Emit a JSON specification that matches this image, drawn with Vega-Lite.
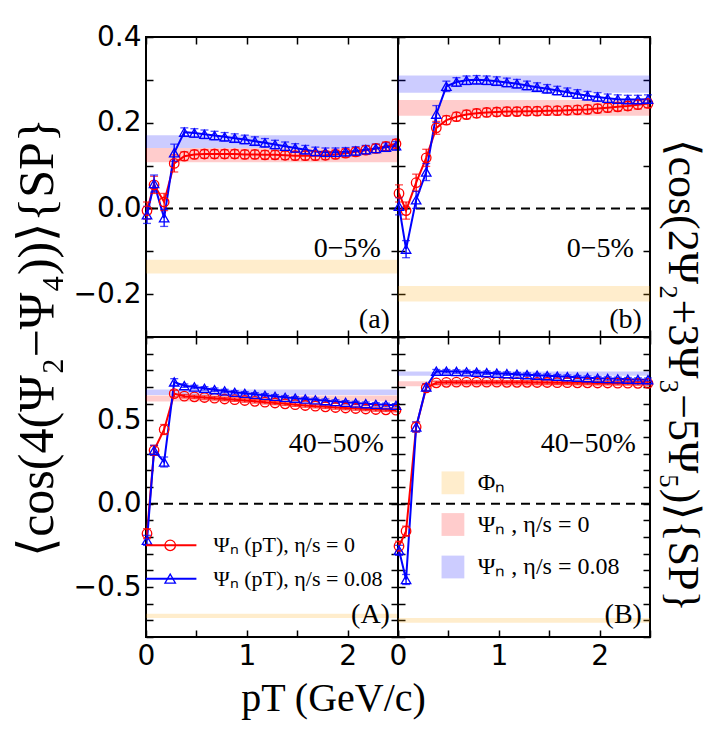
{
"$schema": "https://vega.github.io/schema/vega-lite/v6.json",
"background": "white",
"padding": {"left": 11, "top": 22, "right": 0, "bottom": 5},
"columns": 2,
"spacing": 0,
"bounds": "flush",
"datasets": {
"bands": [
{"p":"a","s":"phi","lo":-0.152,"hi":-0.12},{"p":"a","s":"eta0","lo":0.108,"hi":0.141},{"p":"a","s":"eta008","lo":0.141,"hi":0.171},
{"p":"b","s":"phi","lo":-0.217,"hi":-0.181},{"p":"b","s":"eta0","lo":0.216,"hi":0.253},{"p":"b","s":"eta008","lo":0.27,"hi":0.31},
{"p":"A","s":"phi","lo":-0.686,"hi":-0.66},{"p":"A","s":"eta0","lo":0.613,"hi":0.649},{"p":"A","s":"eta008","lo":0.652,"hi":0.685},
{"p":"B","s":"phi","lo":-0.714,"hi":-0.686},{"p":"B","s":"eta0","lo":0.704,"hi":0.734},{"p":"B","s":"eta008","lo":0.768,"hi":0.793}
],
"series": [
{"p":"a","s":"eta0","pt":0.01,"v":-0.005,"e":0.02},{"p":"a","s":"eta0","pt":0.08,"v":0.055,"e":0.02},{"p":"a","s":"eta0","pt":0.18,"v":0.015,"e":0.02},{"p":"a","s":"eta0","pt":0.28,"v":0.105,"e":0.02},{"p":"a","s":"eta0","pt":0.38,"v":0.122,"e":0.01},{"p":"a","s":"eta0","pt":0.48,"v":0.126,"e":0.01},{"p":"a","s":"eta0","pt":0.58,"v":0.127,"e":0.01},{"p":"a","s":"eta0","pt":0.68,"v":0.127,"e":0.01},{"p":"a","s":"eta0","pt":0.78,"v":0.127,"e":0.01},{"p":"a","s":"eta0","pt":0.88,"v":0.127,"e":0.01},{"p":"a","s":"eta0","pt":0.98,"v":0.126,"e":0.01},{"p":"a","s":"eta0","pt":1.08,"v":0.126,"e":0.01},{"p":"a","s":"eta0","pt":1.18,"v":0.125,"e":0.01},{"p":"a","s":"eta0","pt":1.28,"v":0.125,"e":0.01},{"p":"a","s":"eta0","pt":1.38,"v":0.124,"e":0.01},{"p":"a","s":"eta0","pt":1.48,"v":0.123,"e":0.01},{"p":"a","s":"eta0","pt":1.58,"v":0.123,"e":0.01},{"p":"a","s":"eta0","pt":1.68,"v":0.123,"e":0.01},{"p":"a","s":"eta0","pt":1.78,"v":0.124,"e":0.01},{"p":"a","s":"eta0","pt":1.88,"v":0.126,"e":0.01},{"p":"a","s":"eta0","pt":1.98,"v":0.129,"e":0.01},{"p":"a","s":"eta0","pt":2.08,"v":0.132,"e":0.01},{"p":"a","s":"eta0","pt":2.18,"v":0.136,"e":0.01},{"p":"a","s":"eta0","pt":2.28,"v":0.14,"e":0.01},{"p":"a","s":"eta0","pt":2.38,"v":0.145,"e":0.01},{"p":"a","s":"eta0","pt":2.48,"v":0.151,"e":0.01},
{"p":"a","s":"eta008","pt":0.01,"v":-0.015,"e":0.02},{"p":"a","s":"eta008","pt":0.08,"v":0.058,"e":0.02},{"p":"a","s":"eta008","pt":0.18,"v":-0.022,"e":0.02},{"p":"a","s":"eta008","pt":0.28,"v":0.13,"e":0.02},{"p":"a","s":"eta008","pt":0.38,"v":0.178,"e":0.01},{"p":"a","s":"eta008","pt":0.48,"v":0.176,"e":0.01},{"p":"a","s":"eta008","pt":0.58,"v":0.173,"e":0.01},{"p":"a","s":"eta008","pt":0.68,"v":0.17,"e":0.01},{"p":"a","s":"eta008","pt":0.78,"v":0.167,"e":0.01},{"p":"a","s":"eta008","pt":0.88,"v":0.164,"e":0.01},{"p":"a","s":"eta008","pt":0.98,"v":0.161,"e":0.01},{"p":"a","s":"eta008","pt":1.08,"v":0.157,"e":0.01},{"p":"a","s":"eta008","pt":1.18,"v":0.153,"e":0.01},{"p":"a","s":"eta008","pt":1.28,"v":0.149,"e":0.01},{"p":"a","s":"eta008","pt":1.38,"v":0.145,"e":0.01},{"p":"a","s":"eta008","pt":1.48,"v":0.141,"e":0.01},{"p":"a","s":"eta008","pt":1.58,"v":0.137,"e":0.01},{"p":"a","s":"eta008","pt":1.68,"v":0.133,"e":0.01},{"p":"a","s":"eta008","pt":1.78,"v":0.131,"e":0.01},{"p":"a","s":"eta008","pt":1.88,"v":0.131,"e":0.01},{"p":"a","s":"eta008","pt":1.98,"v":0.132,"e":0.01},{"p":"a","s":"eta008","pt":2.08,"v":0.134,"e":0.01},{"p":"a","s":"eta008","pt":2.18,"v":0.137,"e":0.01},{"p":"a","s":"eta008","pt":2.28,"v":0.14,"e":0.01},{"p":"a","s":"eta008","pt":2.38,"v":0.143,"e":0.01},{"p":"a","s":"eta008","pt":2.48,"v":0.146,"e":0.01},
{"p":"b","s":"eta0","pt":0.01,"v":0.035,"e":0.02},{"p":"b","s":"eta0","pt":0.08,"v":-0.005,"e":0.02},{"p":"b","s":"eta0","pt":0.18,"v":0.06,"e":0.02},{"p":"b","s":"eta0","pt":0.28,"v":0.118,"e":0.02},{"p":"b","s":"eta0","pt":0.38,"v":0.188,"e":0.015},{"p":"b","s":"eta0","pt":0.48,"v":0.206,"e":0.01},{"p":"b","s":"eta0","pt":0.58,"v":0.214,"e":0.01},{"p":"b","s":"eta0","pt":0.68,"v":0.219,"e":0.01},{"p":"b","s":"eta0","pt":0.78,"v":0.222,"e":0.01},{"p":"b","s":"eta0","pt":0.88,"v":0.224,"e":0.01},{"p":"b","s":"eta0","pt":0.98,"v":0.225,"e":0.01},{"p":"b","s":"eta0","pt":1.08,"v":0.226,"e":0.01},{"p":"b","s":"eta0","pt":1.18,"v":0.226,"e":0.01},{"p":"b","s":"eta0","pt":1.28,"v":0.227,"e":0.01},{"p":"b","s":"eta0","pt":1.38,"v":0.227,"e":0.01},{"p":"b","s":"eta0","pt":1.48,"v":0.228,"e":0.01},{"p":"b","s":"eta0","pt":1.58,"v":0.228,"e":0.01},{"p":"b","s":"eta0","pt":1.68,"v":0.229,"e":0.01},{"p":"b","s":"eta0","pt":1.78,"v":0.23,"e":0.01},{"p":"b","s":"eta0","pt":1.88,"v":0.231,"e":0.01},{"p":"b","s":"eta0","pt":1.98,"v":0.233,"e":0.01},{"p":"b","s":"eta0","pt":2.08,"v":0.235,"e":0.01},{"p":"b","s":"eta0","pt":2.18,"v":0.237,"e":0.01},{"p":"b","s":"eta0","pt":2.28,"v":0.239,"e":0.01},{"p":"b","s":"eta0","pt":2.38,"v":0.242,"e":0.01},{"p":"b","s":"eta0","pt":2.48,"v":0.245,"e":0.01},
{"p":"b","s":"eta008","pt":0.01,"v":0.005,"e":0.02},{"p":"b","s":"eta008","pt":0.08,"v":-0.095,"e":0.02},{"p":"b","s":"eta008","pt":0.18,"v":0.02,"e":0.02},{"p":"b","s":"eta008","pt":0.28,"v":0.085,"e":0.02},{"p":"b","s":"eta008","pt":0.38,"v":0.22,"e":0.02},{"p":"b","s":"eta008","pt":0.48,"v":0.285,"e":0.012},{"p":"b","s":"eta008","pt":0.58,"v":0.295,"e":0.01},{"p":"b","s":"eta008","pt":0.68,"v":0.299,"e":0.01},{"p":"b","s":"eta008","pt":0.78,"v":0.3,"e":0.01},{"p":"b","s":"eta008","pt":0.88,"v":0.299,"e":0.01},{"p":"b","s":"eta008","pt":0.98,"v":0.297,"e":0.01},{"p":"b","s":"eta008","pt":1.08,"v":0.294,"e":0.01},{"p":"b","s":"eta008","pt":1.18,"v":0.291,"e":0.01},{"p":"b","s":"eta008","pt":1.28,"v":0.287,"e":0.01},{"p":"b","s":"eta008","pt":1.38,"v":0.283,"e":0.01},{"p":"b","s":"eta008","pt":1.48,"v":0.279,"e":0.01},{"p":"b","s":"eta008","pt":1.58,"v":0.275,"e":0.01},{"p":"b","s":"eta008","pt":1.68,"v":0.271,"e":0.01},{"p":"b","s":"eta008","pt":1.78,"v":0.267,"e":0.01},{"p":"b","s":"eta008","pt":1.88,"v":0.263,"e":0.01},{"p":"b","s":"eta008","pt":1.98,"v":0.26,"e":0.01},{"p":"b","s":"eta008","pt":2.08,"v":0.257,"e":0.01},{"p":"b","s":"eta008","pt":2.18,"v":0.255,"e":0.01},{"p":"b","s":"eta008","pt":2.28,"v":0.254,"e":0.01},{"p":"b","s":"eta008","pt":2.38,"v":0.254,"e":0.01},{"p":"b","s":"eta008","pt":2.48,"v":0.255,"e":0.01},
{"p":"A","s":"eta0","pt":0.01,"v":-0.18,"e":0.03},{"p":"A","s":"eta0","pt":0.08,"v":0.32,"e":0.03},{"p":"A","s":"eta0","pt":0.18,"v":0.445,"e":0.03},{"p":"A","s":"eta0","pt":0.28,"v":0.66,"e":0.02},{"p":"A","s":"eta0","pt":0.38,"v":0.645,"e":0.01},{"p":"A","s":"eta0","pt":0.48,"v":0.641,"e":0.01},{"p":"A","s":"eta0","pt":0.58,"v":0.637,"e":0.01},{"p":"A","s":"eta0","pt":0.68,"v":0.633,"e":0.01},{"p":"A","s":"eta0","pt":0.78,"v":0.628,"e":0.01},{"p":"A","s":"eta0","pt":0.88,"v":0.624,"e":0.01},{"p":"A","s":"eta0","pt":0.98,"v":0.619,"e":0.01},{"p":"A","s":"eta0","pt":1.08,"v":0.614,"e":0.01},{"p":"A","s":"eta0","pt":1.18,"v":0.609,"e":0.01},{"p":"A","s":"eta0","pt":1.28,"v":0.604,"e":0.01},{"p":"A","s":"eta0","pt":1.38,"v":0.599,"e":0.01},{"p":"A","s":"eta0","pt":1.48,"v":0.594,"e":0.01},{"p":"A","s":"eta0","pt":1.58,"v":0.589,"e":0.01},{"p":"A","s":"eta0","pt":1.68,"v":0.585,"e":0.01},{"p":"A","s":"eta0","pt":1.78,"v":0.581,"e":0.01},{"p":"A","s":"eta0","pt":1.88,"v":0.577,"e":0.01},{"p":"A","s":"eta0","pt":1.98,"v":0.574,"e":0.01},{"p":"A","s":"eta0","pt":2.08,"v":0.571,"e":0.01},{"p":"A","s":"eta0","pt":2.18,"v":0.568,"e":0.01},{"p":"A","s":"eta0","pt":2.28,"v":0.565,"e":0.01},{"p":"A","s":"eta0","pt":2.38,"v":0.563,"e":0.01},{"p":"A","s":"eta0","pt":2.48,"v":0.561,"e":0.01},
{"p":"A","s":"eta008","pt":0.01,"v":-0.22,"e":0.03},{"p":"A","s":"eta008","pt":0.08,"v":0.32,"e":0.03},{"p":"A","s":"eta008","pt":0.18,"v":0.25,"e":0.03},{"p":"A","s":"eta008","pt":0.28,"v":0.73,"e":0.02},{"p":"A","s":"eta008","pt":0.38,"v":0.708,"e":0.01},{"p":"A","s":"eta008","pt":0.48,"v":0.7,"e":0.01},{"p":"A","s":"eta008","pt":0.58,"v":0.692,"e":0.01},{"p":"A","s":"eta008","pt":0.68,"v":0.684,"e":0.01},{"p":"A","s":"eta008","pt":0.78,"v":0.676,"e":0.01},{"p":"A","s":"eta008","pt":0.88,"v":0.668,"e":0.01},{"p":"A","s":"eta008","pt":0.98,"v":0.662,"e":0.01},{"p":"A","s":"eta008","pt":1.08,"v":0.656,"e":0.01},{"p":"A","s":"eta008","pt":1.18,"v":0.65,"e":0.01},{"p":"A","s":"eta008","pt":1.28,"v":0.644,"e":0.01},{"p":"A","s":"eta008","pt":1.38,"v":0.638,"e":0.01},{"p":"A","s":"eta008","pt":1.48,"v":0.633,"e":0.01},{"p":"A","s":"eta008","pt":1.58,"v":0.628,"e":0.01},{"p":"A","s":"eta008","pt":1.68,"v":0.623,"e":0.01},{"p":"A","s":"eta008","pt":1.78,"v":0.618,"e":0.01},{"p":"A","s":"eta008","pt":1.88,"v":0.613,"e":0.01},{"p":"A","s":"eta008","pt":1.98,"v":0.608,"e":0.01},{"p":"A","s":"eta008","pt":2.08,"v":0.604,"e":0.01},{"p":"A","s":"eta008","pt":2.18,"v":0.6,"e":0.01},{"p":"A","s":"eta008","pt":2.28,"v":0.596,"e":0.01},{"p":"A","s":"eta008","pt":2.38,"v":0.593,"e":0.01},{"p":"A","s":"eta008","pt":2.48,"v":0.59,"e":0.01},
{"p":"B","s":"eta0","pt":0.01,"v":-0.255,"e":0.03},{"p":"B","s":"eta0","pt":0.08,"v":-0.165,"e":0.03},{"p":"B","s":"eta0","pt":0.18,"v":0.46,"e":0.03},{"p":"B","s":"eta0","pt":0.28,"v":0.695,"e":0.02},{"p":"B","s":"eta0","pt":0.38,"v":0.725,"e":0.01},{"p":"B","s":"eta0","pt":0.48,"v":0.728,"e":0.01},{"p":"B","s":"eta0","pt":0.58,"v":0.729,"e":0.01},{"p":"B","s":"eta0","pt":0.68,"v":0.729,"e":0.01},{"p":"B","s":"eta0","pt":0.78,"v":0.729,"e":0.01},{"p":"B","s":"eta0","pt":0.88,"v":0.729,"e":0.01},{"p":"B","s":"eta0","pt":0.98,"v":0.729,"e":0.01},{"p":"B","s":"eta0","pt":1.08,"v":0.728,"e":0.01},{"p":"B","s":"eta0","pt":1.18,"v":0.728,"e":0.01},{"p":"B","s":"eta0","pt":1.28,"v":0.728,"e":0.01},{"p":"B","s":"eta0","pt":1.38,"v":0.727,"e":0.01},{"p":"B","s":"eta0","pt":1.48,"v":0.727,"e":0.01},{"p":"B","s":"eta0","pt":1.58,"v":0.726,"e":0.01},{"p":"B","s":"eta0","pt":1.68,"v":0.726,"e":0.01},{"p":"B","s":"eta0","pt":1.78,"v":0.725,"e":0.01},{"p":"B","s":"eta0","pt":1.88,"v":0.725,"e":0.01},{"p":"B","s":"eta0","pt":1.98,"v":0.724,"e":0.01},{"p":"B","s":"eta0","pt":2.08,"v":0.724,"e":0.01},{"p":"B","s":"eta0","pt":2.18,"v":0.723,"e":0.01},{"p":"B","s":"eta0","pt":2.28,"v":0.723,"e":0.01},{"p":"B","s":"eta0","pt":2.38,"v":0.722,"e":0.01},{"p":"B","s":"eta0","pt":2.48,"v":0.722,"e":0.01},
{"p":"B","s":"eta008","pt":0.01,"v":-0.28,"e":0.03},{"p":"B","s":"eta008","pt":0.08,"v":-0.455,"e":0.03},{"p":"B","s":"eta008","pt":0.18,"v":0.46,"e":0.03},{"p":"B","s":"eta008","pt":0.28,"v":0.7,"e":0.02},{"p":"B","s":"eta008","pt":0.38,"v":0.795,"e":0.01},{"p":"B","s":"eta008","pt":0.48,"v":0.795,"e":0.01},{"p":"B","s":"eta008","pt":0.58,"v":0.793,"e":0.01},{"p":"B","s":"eta008","pt":0.68,"v":0.791,"e":0.01},{"p":"B","s":"eta008","pt":0.78,"v":0.789,"e":0.01},{"p":"B","s":"eta008","pt":0.88,"v":0.786,"e":0.01},{"p":"B","s":"eta008","pt":0.98,"v":0.783,"e":0.01},{"p":"B","s":"eta008","pt":1.08,"v":0.78,"e":0.01},{"p":"B","s":"eta008","pt":1.18,"v":0.777,"e":0.01},{"p":"B","s":"eta008","pt":1.28,"v":0.774,"e":0.01},{"p":"B","s":"eta008","pt":1.38,"v":0.771,"e":0.01},{"p":"B","s":"eta008","pt":1.48,"v":0.768,"e":0.01},{"p":"B","s":"eta008","pt":1.58,"v":0.765,"e":0.01},{"p":"B","s":"eta008","pt":1.68,"v":0.762,"e":0.01},{"p":"B","s":"eta008","pt":1.78,"v":0.759,"e":0.01},{"p":"B","s":"eta008","pt":1.88,"v":0.756,"e":0.01},{"p":"B","s":"eta008","pt":1.98,"v":0.753,"e":0.01},{"p":"B","s":"eta008","pt":2.08,"v":0.751,"e":0.01},{"p":"B","s":"eta008","pt":2.18,"v":0.749,"e":0.01},{"p":"B","s":"eta008","pt":2.28,"v":0.747,"e":0.01},{"p":"B","s":"eta008","pt":2.38,"v":0.745,"e":0.01},{"p":"B","s":"eta008","pt":2.48,"v":0.744,"e":0.01}
],
"notes": [
{"p":"a","x":2.33,"y":-0.094,"t":"0−5%"},{"p":"a","x":2.42,"y":-0.26,"t":"(a)"},
{"p":"b","x":2.34,"y":-0.094,"t":"0−5%"},{"p":"b","x":2.42,"y":-0.26,"t":"(b)"},
{"p":"A","x":2.36,"y":0.36,"t":"40−50%"},{"p":"A","x":2.42,"y":-0.67,"t":"(A)"},
{"p":"B","x":2.36,"y":0.36,"t":"40−50%"},{"p":"B","x":2.42,"y":-0.67,"t":"(B)"}
],
"leg": [
{"p":"A","s":"eta0","x0":0.0,"x1":0.5,"xm":0.24,"y":-0.25,"tx":0.67,"t":"Ψₙ (pT), η/s = 0"},
{"p":"A","s":"eta008","x0":0.0,"x1":0.5,"xm":0.24,"y":-0.45,"tx":0.67,"t":"Ψₙ (pT), η/s = 0.08"},
{"p":"B","s":"phi","xm":0.545,"y":0.125,"tx":0.79,"t":"Φₙ"},
{"p":"B","s":"eta0","xm":0.545,"y":-0.125,"tx":0.79,"t":"Ψₙ , η/s = 0"},
{"p":"B","s":"eta008","xm":0.545,"y":-0.38,"tx":0.79,"t":"Ψₙ , η/s = 0.08"}
]
},
"concat": [
{"width":252,"height":300,
"resolve":{"axis":{"x":"independent","y":"independent"}},
"layer":[
{"data":{"name":"bands"},"transform":[{"filter":"datum.p=='a'"}],"mark":{"type":"rect","opacity":0.2},
"encoding":{"x":{"datum":0,"type":"quantitative","scale":{"domain":[0,2.5],"nice":false},"axis":{"orient":"bottom","values":[0,0.5,1,1.5,2,2.5],"labels":false,"title":null}},"x2":{"datum":2.5},
"y":{"field":"lo","type":"quantitative","scale":{"domain":[-0.3,0.4],"nice":false},"axis":{"orient":"left","values":[-0.3,-0.2,-0.1,0,0.1,0.2,0.3,0.4],"labelExpr":"abs(round(datum.value*10)) % 2 == 0 ? format(datum.value, '.1f') : ''","title":"⟨cos(4(Ψ₂−Ψ₄))⟩{SP}","titleAngle":-90,"titleX":-109,"titleY":300,"titleAlign":"center","titleBaseline":"middle"}},"y2":{"field":"hi"},
"color":{"field":"s","type":"nominal","scale":{"domain":["phi","eta0","eta008"],"range":["#FFA500","#FF0000","#0000FF"]},"legend":null}}},
{"data":{"values":[{}]},"mark":{"type":"rule","strokeDash":[9,6],"strokeWidth":2,"color":"black"},"encoding":{"y":{"datum":0,"type":"quantitative","axis":null}}},
{"data":{"name":"series"},"transform":[{"filter":"datum.p=='a'"}],"mark":{"type":"line","strokeWidth":2},
"encoding":{"x":{"field":"pt","type":"quantitative","scale":{"domain":[0,2.5],"nice":false},"axis":{"orient":"top","values":[0,0.5,1,1.5,2,2.5],"labels":false,"title":null}},"y":{"field":"v","type":"quantitative","scale":{"domain":[-0.3,0.4],"nice":false},"axis":{"orient":"right","values":[-0.3,-0.2,-0.1,0,0.1,0.2,0.3,0.4],"labels":false,"title":null}},"color":{"field":"s","type":"nominal","legend":null}}},
{"data":{"name":"series"},"transform":[{"filter":"datum.p=='a'"}],"mark":{"type":"errorbar","ticks":{"size":8},"thickness":1.3},
"encoding":{"x":{"field":"pt","type":"quantitative","axis":null},"y":{"field":"v","type":"quantitative","axis":null},"yError":{"field":"e"},"color":{"field":"s","type":"nominal","legend":null}}},
{"data":{"name":"series"},"transform":[{"filter":"datum.p=='a'"}],"mark":{"type":"point","filled":false,"size":90,"strokeWidth":1.3,"opacity":1},
"encoding":{"x":{"field":"pt","type":"quantitative","axis":null},"y":{"field":"v","type":"quantitative","axis":null},"color":{"field":"s","type":"nominal","legend":null},"shape":{"field":"s","type":"nominal","scale":{"domain":["eta0","eta008"],"range":["circle","triangle-up"]},"legend":null}}},
{"data":{"name":"notes"},"transform":[{"filter":"datum.p=='a'"}],"mark":{"type":"text","align":"right","baseline":"middle","font":"Liberation Serif","fontSize":28,"color":"black"},
"encoding":{"x":{"field":"x","type":"quantitative","axis":null},"y":{"field":"y","type":"quantitative","axis":null},"text":{"field":"t"}}}
]},
{"width":252,"height":300,
"resolve":{"axis":{"x":"independent","y":"independent"}},
"layer":[
{"data":{"name":"bands"},"transform":[{"filter":"datum.p=='b'"}],"mark":{"type":"rect","opacity":0.2},
"encoding":{"x":{"datum":0,"type":"quantitative","scale":{"domain":[0,2.5],"nice":false},"axis":{"orient":"bottom","values":[0,0.5,1,1.5,2,2.5],"labels":false,"title":null}},"x2":{"datum":2.5},
"y":{"field":"lo","type":"quantitative","scale":{"domain":[-0.3,0.4],"nice":false},"axis":{"orient":"left","values":[-0.3,-0.2,-0.1,0,0.1,0.2,0.3,0.4],"labels":false,"title":null}},"y2":{"field":"hi"},
"color":{"field":"s","type":"nominal","scale":{"domain":["phi","eta0","eta008"],"range":["#FFA500","#FF0000","#0000FF"]},"legend":null}}},
{"data":{"values":[{}]},"mark":{"type":"rule","strokeDash":[9,6],"strokeWidth":2,"color":"black"},"encoding":{"y":{"datum":0,"type":"quantitative","axis":null}}},
{"data":{"name":"series"},"transform":[{"filter":"datum.p=='b'"}],"mark":{"type":"line","strokeWidth":2},
"encoding":{"x":{"field":"pt","type":"quantitative","scale":{"domain":[0,2.5],"nice":false},"axis":{"orient":"top","values":[0,0.5,1,1.5,2,2.5],"labels":false,"title":null}},"y":{"field":"v","type":"quantitative","scale":{"domain":[-0.3,0.4],"nice":false},"axis":{"orient":"right","values":[-0.3,-0.2,-0.1,0,0.1,0.2,0.3,0.4],"labels":false,"title":"⟨cos(2Ψ₂+3Ψ₃−5Ψ₅)⟩{SP}","titleFontSize":44,"titleAngle":90,"titleX":31,"titleY":338,"titleAlign":"center","titleBaseline":"middle"}},"color":{"field":"s","type":"nominal","legend":null}}},
{"data":{"name":"series"},"transform":[{"filter":"datum.p=='b'"}],"mark":{"type":"errorbar","ticks":{"size":8},"thickness":1.3},
"encoding":{"x":{"field":"pt","type":"quantitative","axis":null},"y":{"field":"v","type":"quantitative","axis":null},"yError":{"field":"e"},"color":{"field":"s","type":"nominal","legend":null}}},
{"data":{"name":"series"},"transform":[{"filter":"datum.p=='b'"}],"mark":{"type":"point","filled":false,"size":90,"strokeWidth":1.3,"opacity":1},
"encoding":{"x":{"field":"pt","type":"quantitative","axis":null},"y":{"field":"v","type":"quantitative","axis":null},"color":{"field":"s","type":"nominal","legend":null},"shape":{"field":"s","type":"nominal","scale":{"domain":["eta0","eta008"],"range":["circle","triangle-up"]},"legend":null}}},
{"data":{"name":"notes"},"transform":[{"filter":"datum.p=='b'"}],"mark":{"type":"text","align":"right","baseline":"middle","font":"Liberation Serif","fontSize":28,"color":"black"},
"encoding":{"x":{"field":"x","type":"quantitative","axis":null},"y":{"field":"y","type":"quantitative","axis":null},"text":{"field":"t"}}}
]},
{"width":252,"height":300,
"resolve":{"axis":{"x":"independent","y":"independent"}},
"layer":[
{"data":{"name":"bands"},"transform":[{"filter":"datum.p=='A'"}],"mark":{"type":"rect","opacity":0.2},
"encoding":{"x":{"datum":0,"type":"quantitative","scale":{"domain":[0,2.5],"nice":false},"axis":{"orient":"bottom","values":[0,0.5,1,1.5,2,2.5],"labelExpr":"datum.value % 1 == 0 && datum.value < 2.4 ? format(datum.value, 'd') : ''","labelPadding":12,"title":"pT (GeV/c)","titleFontSize":40,"titleX":187,"titleY":61,"titleAlign":"center","titleBaseline":"middle"}},"x2":{"datum":2.5},
"y":{"field":"lo","type":"quantitative","scale":{"domain":[-0.8,1.0],"nice":false},"axis":{"orient":"left","values":[-0.8,-0.7,-0.6,-0.5,-0.4,-0.3,-0.2,-0.1,0,0.1,0.2,0.3,0.4,0.5,0.6,0.7,0.8,0.9,1.0],"labelExpr":"abs(round(datum.value*10)) % 5 == 0 && abs(datum.value) < 0.9 ? format(datum.value, '.1f') : ''","title":null}},"y2":{"field":"hi"},
"color":{"field":"s","type":"nominal","scale":{"domain":["phi","eta0","eta008"],"range":["#FFA500","#FF0000","#0000FF"]},"legend":null}}},
{"data":{"values":[{}]},"mark":{"type":"rule","strokeDash":[9,6],"strokeWidth":2,"color":"black"},"encoding":{"y":{"datum":0,"type":"quantitative","axis":null}}},
{"data":{"name":"series"},"transform":[{"filter":"datum.p=='A'"}],"mark":{"type":"line","strokeWidth":2},
"encoding":{"x":{"field":"pt","type":"quantitative","scale":{"domain":[0,2.5],"nice":false},"axis":{"orient":"top","values":[0,0.5,1,1.5,2,2.5],"labels":false,"title":null}},"y":{"field":"v","type":"quantitative","scale":{"domain":[-0.8,1.0],"nice":false},"axis":{"orient":"right","values":[-0.8,-0.7,-0.6,-0.5,-0.4,-0.3,-0.2,-0.1,0,0.1,0.2,0.3,0.4,0.5,0.6,0.7,0.8,0.9,1.0],"labels":false,"title":null}},"color":{"field":"s","type":"nominal","legend":null}}},
{"data":{"name":"series"},"transform":[{"filter":"datum.p=='A'"}],"mark":{"type":"errorbar","ticks":{"size":8},"thickness":1.3},
"encoding":{"x":{"field":"pt","type":"quantitative","axis":null},"y":{"field":"v","type":"quantitative","axis":null},"yError":{"field":"e"},"color":{"field":"s","type":"nominal","legend":null}}},
{"data":{"name":"series"},"transform":[{"filter":"datum.p=='A'"}],"mark":{"type":"point","filled":false,"size":90,"strokeWidth":1.3,"opacity":1},
"encoding":{"x":{"field":"pt","type":"quantitative","axis":null},"y":{"field":"v","type":"quantitative","axis":null},"color":{"field":"s","type":"nominal","legend":null},"shape":{"field":"s","type":"nominal","scale":{"domain":["eta0","eta008"],"range":["circle","triangle-up"]},"legend":null}}},
{"data":{"name":"notes"},"transform":[{"filter":"datum.p=='A'"}],"mark":{"type":"text","align":"right","baseline":"middle","font":"Liberation Serif","fontSize":28,"color":"black"},
"encoding":{"x":{"field":"x","type":"quantitative","axis":null},"y":{"field":"y","type":"quantitative","axis":null},"text":{"field":"t"}}},
{"data":{"name":"leg"},"transform":[{"filter":"datum.p=='A'"}],"mark":{"type":"rule","strokeWidth":2},
"encoding":{"x":{"field":"x0","type":"quantitative","axis":null},"x2":{"field":"x1"},"y":{"field":"y","type":"quantitative","axis":null},"color":{"field":"s","type":"nominal","legend":null}}},
{"data":{"name":"leg"},"transform":[{"filter":"datum.p=='A'"}],"mark":{"type":"point","filled":false,"size":110,"strokeWidth":1.3,"opacity":1},
"encoding":{"x":{"field":"xm","type":"quantitative","axis":null},"y":{"field":"y","type":"quantitative","axis":null},"color":{"field":"s","type":"nominal","legend":null},"shape":{"field":"s","type":"nominal","legend":null}}},
{"data":{"name":"leg"},"transform":[{"filter":"datum.p=='A'"}],"mark":{"type":"text","align":"left","baseline":"middle","font":"Liberation Serif","fontSize":22,"color":"black"},
"encoding":{"x":{"field":"tx","type":"quantitative","axis":null},"y":{"field":"y","type":"quantitative","axis":null},"text":{"field":"t"}}}
]},
{"width":252,"height":300,
"resolve":{"axis":{"x":"independent","y":"independent"}},
"layer":[
{"data":{"name":"bands"},"transform":[{"filter":"datum.p=='B'"}],"mark":{"type":"rect","opacity":0.2},
"encoding":{"x":{"datum":0,"type":"quantitative","scale":{"domain":[0,2.5],"nice":false},"axis":{"orient":"bottom","values":[0,0.5,1,1.5,2,2.5],"labelExpr":"datum.value % 1 == 0 && datum.value < 2.4 ? format(datum.value, 'd') : ''","labelPadding":12,"title":null}},"x2":{"datum":2.5},
"y":{"field":"lo","type":"quantitative","scale":{"domain":[-0.8,1.0],"nice":false},"axis":{"orient":"left","values":[-0.8,-0.7,-0.6,-0.5,-0.4,-0.3,-0.2,-0.1,0,0.1,0.2,0.3,0.4,0.5,0.6,0.7,0.8,0.9,1.0],"labels":false,"title":null}},"y2":{"field":"hi"},
"color":{"field":"s","type":"nominal","scale":{"domain":["phi","eta0","eta008"],"range":["#FFA500","#FF0000","#0000FF"]},"legend":null}}},
{"data":{"values":[{}]},"mark":{"type":"rule","strokeDash":[9,6],"strokeWidth":2,"color":"black"},"encoding":{"y":{"datum":0,"type":"quantitative","axis":null}}},
{"data":{"name":"series"},"transform":[{"filter":"datum.p=='B'"}],"mark":{"type":"line","strokeWidth":2},
"encoding":{"x":{"field":"pt","type":"quantitative","scale":{"domain":[0,2.5],"nice":false},"axis":{"orient":"top","values":[0,0.5,1,1.5,2,2.5],"labels":false,"title":null}},"y":{"field":"v","type":"quantitative","scale":{"domain":[-0.8,1.0],"nice":false},"axis":{"orient":"right","values":[-0.8,-0.7,-0.6,-0.5,-0.4,-0.3,-0.2,-0.1,0,0.1,0.2,0.3,0.4,0.5,0.6,0.7,0.8,0.9,1.0],"labels":false,"title":null}},"color":{"field":"s","type":"nominal","legend":null}}},
{"data":{"name":"series"},"transform":[{"filter":"datum.p=='B'"}],"mark":{"type":"errorbar","ticks":{"size":8},"thickness":1.3},
"encoding":{"x":{"field":"pt","type":"quantitative","axis":null},"y":{"field":"v","type":"quantitative","axis":null},"yError":{"field":"e"},"color":{"field":"s","type":"nominal","legend":null}}},
{"data":{"name":"series"},"transform":[{"filter":"datum.p=='B'"}],"mark":{"type":"point","filled":false,"size":90,"strokeWidth":1.3,"opacity":1},
"encoding":{"x":{"field":"pt","type":"quantitative","axis":null},"y":{"field":"v","type":"quantitative","axis":null},"color":{"field":"s","type":"nominal","legend":null},"shape":{"field":"s","type":"nominal","scale":{"domain":["eta0","eta008"],"range":["circle","triangle-up"]},"legend":null}}},
{"data":{"name":"notes"},"transform":[{"filter":"datum.p=='B'"}],"mark":{"type":"text","align":"right","baseline":"middle","font":"Liberation Serif","fontSize":28,"color":"black"},
"encoding":{"x":{"field":"x","type":"quantitative","axis":null},"y":{"field":"y","type":"quantitative","axis":null},"text":{"field":"t"}}},
{"data":{"name":"leg"},"transform":[{"filter":"datum.p=='B'"}],"mark":{"type":"point","shape":"square","filled":true,"size":520,"opacity":0.2},
"encoding":{"x":{"field":"xm","type":"quantitative","axis":null},"y":{"field":"y","type":"quantitative","axis":null},"color":{"field":"s","type":"nominal","legend":null}}},
{"data":{"name":"leg"},"transform":[{"filter":"datum.p=='B'"}],"mark":{"type":"text","align":"left","baseline":"middle","font":"Liberation Serif","fontSize":24,"color":"black"},
"encoding":{"x":{"field":"tx","type":"quantitative","axis":null},"y":{"field":"y","type":"quantitative","axis":null},"text":{"field":"t"}}}
]}
],
"config": {
"view": {"stroke": "black", "strokeWidth": 2},
"axis": {"domain": false, "grid": false, "ticks": true, "tickColor": "black", "tickWidth": 1.5, "tickSize": -7, "labelFont": "DejaVu Sans", "labelFontSize": 28, "labelColor": "black", "labelPadding": 12, "labelFlush": false, "labelOverlap": false, "titleFont": "Liberation Serif", "titleFontSize": 50, "titleFontWeight": "normal", "titleColor": "black"}
}
}
